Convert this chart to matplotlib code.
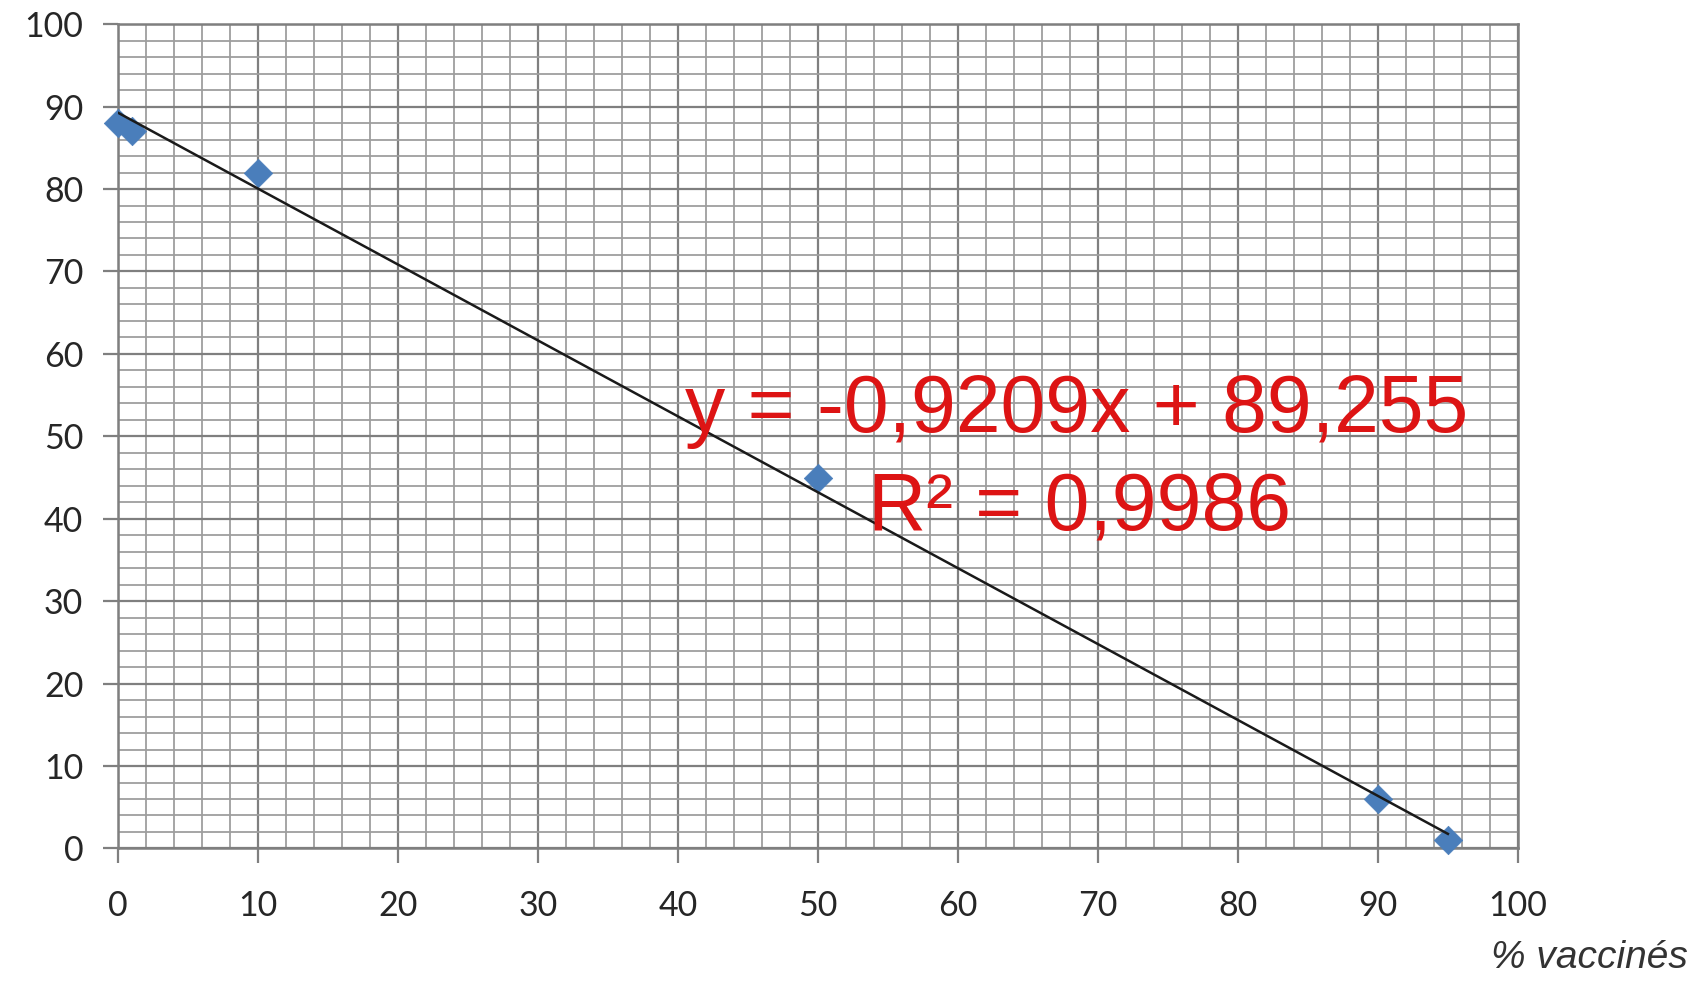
import numpy as np
import matplotlib
matplotlib.use("Agg")
import matplotlib.pyplot as plt
from matplotlib.ticker import MultipleLocator

# % de vaccinés vs % de malades
pct_vaccines = [0, 1, 10, 50, 90, 95]
pct_malades = [88, 87, 82, 45, 6, 1]

# droite de tendance (coefficients affichés sur le graphique)
pente = -0.9209
ordonnee = 89.255
r2 = 0.9986

x_ticks = [0, 10, 20, 30, 40, 50, 60, 70, 80, 90, 100]
y_ticks = [0, 10, 20, 30, 40, 50, 60, 70, 80, 90, 100]

fig = plt.figure(figsize=(17.03, 9.82), dpi=100)
ax = fig.add_axes([0.0693, 0.136, 0.822, 0.8394])

ax.set_xlim(0, 100)
ax.set_ylim(0, 100)
ax.xaxis.set_minor_locator(MultipleLocator(2))
ax.yaxis.set_minor_locator(MultipleLocator(2))
ax.set_xticks(x_ticks)
ax.set_yticks(y_ticks)

ax.grid(which="major", color="#7f7f7f", linewidth=1.6)
ax.grid(which="minor", color="#9e9e9e", linewidth=1.3)
ax.set_axisbelow(True)
for side in ["left", "right", "top", "bottom"]:
    ax.spines[side].set_color("#7f7f7f")
    ax.spines[side].set_linewidth(1.8)

tick_font = {"family": "Lato", "size": 24.5, "color": "#262626"}
ax.tick_params(axis="both", which="major", direction="out", length=11,
               width=1.6, color="#7f7f7f")
ax.tick_params(axis="x", which="major", pad=19)
ax.tick_params(axis="y", which="major", pad=14)
ax.tick_params(which="minor", length=0)
ax.set_xticklabels([str(v) for v in x_ticks], fontdict=tick_font)
ax.set_yticklabels([str(v) for v in y_ticks], fontdict=tick_font)

# points mesurés
ax.scatter(pct_vaccines, pct_malades, marker="D", s=210, color="#4a7ebb",
           edgecolors="#4a7ebb", linewidths=0.5, zorder=3, clip_on=False)

# droite de régression
xs = np.array([min(pct_vaccines), max(pct_vaccines)])
ax.plot(xs, pente * xs + ordonnee, color="#1a1a1a", linewidth=1.8, zorder=4)

eq = "y = {:.4f}x + {:.3f}".format(pente, ordonnee).replace(".", ",")
r2_txt = "R² = {:.4f}".format(r2).replace(".", ",")
label_style = dict(transform=ax.transAxes, ha="center", va="baseline",
                   fontsize=58, family="Liberation Sans", color="#dd1414",
                   zorder=5)
ax.text(0.6845, 0.505, eq, **label_style)
ax.text(0.6865, 0.3865, r2_txt, **label_style)

fig.text(0.991, 0.006, "% vaccinés", ha="right", va="bottom",
         fontsize=28, style="italic", family="Liberation Sans",
         color="#333333")

fig.savefig("out.png", dpi=100)
